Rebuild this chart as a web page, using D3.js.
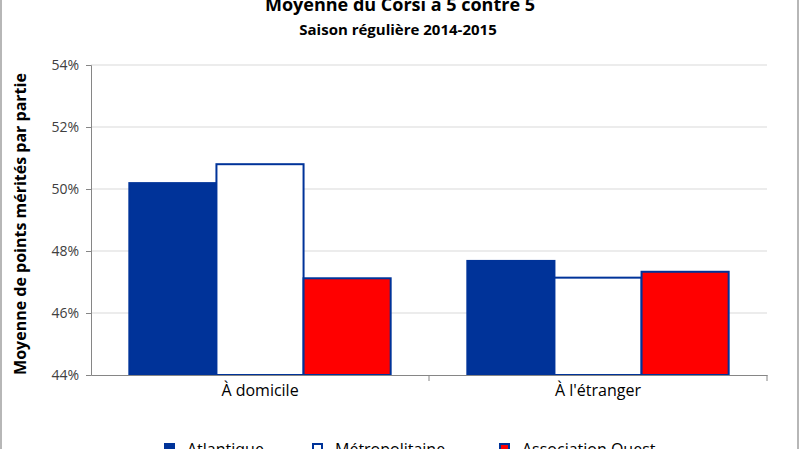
<!DOCTYPE html>
<html>
  <head>
    <script src="https://d3js.org/d3.v7.min.js"></script>
    <style>
      body { margin: 0; background: #fff; }
      text { font-family: "Open Sans", sans-serif; }
    </style>
  </head>
  <body>
    <svg width="800" height="449" id="chart"></svg>
    <script>
      const categories = ["À domicile", "À l'étranger"];
      const seriesNames = ["Atlantique", "Métropolitaine", "Association Ouest"];
      const atlantique = [50.19, 47.68];
      const metropolitaine = [50.80, 47.14];
      const associationOuest = [47.12, 47.33];
      const yTicks = [44, 46, 48, 50, 52, 54];

      const seriesValues = [atlantique, metropolitaine, associationOuest];
      const fills = ["#003399", "#ffffff", "#ff0000"];

      let svg = d3.select("#chart");

      // chart border
      svg.append("rect")
        .attr("x", 1).attr("y", -5)
        .attr("width", 797).attr("height", 470)
        .attr("fill", "none").attr("stroke", "#888").attr("stroke-width", 1.2);

      let x0 = d3.scaleBand().domain(categories).range([91, 767]).paddingInner(0).paddingOuter(0);
      let x1 = d3.scaleBand().domain(seriesNames).range([0, x0.bandwidth()]).paddingOuter(0.44);
      let y = d3.scaleLinear().domain([44, 54]).range([375, 65]);

      // gridlines
      svg.append("g").selectAll("line").data(yTicks.slice(1))
        .join("line")
        .attr("x1", 91).attr("x2", 767)
        .attr("y1", d => y(d)).attr("y2", d => y(d))
        .attr("stroke", "#d9d9d9").attr("stroke-width", 1);

      // bars
      let groups = svg.append("g").selectAll("g").data(categories)
        .join("g")
        .attr("transform", d => `translate(${x0(d)},0)`);

      groups.selectAll("rect")
        .data((c, ci) => seriesNames.map((s, si) => ({ s: s, si: si, v: seriesValues[si][ci] })))
        .join("rect")
        .attr("x", d => x1(d.s))
        .attr("width", x1.bandwidth())
        .attr("y", d => y(d.v))
        .attr("height", d => y(44) - y(d.v))
        .attr("fill", d => fills[d.si])
        .attr("stroke", "#003399")
        .attr("stroke-width", 2);

      // y axis
      let yAxis = svg.append("g")
        .attr("transform", "translate(91,0)")
        .call(d3.axisLeft(y).tickValues(yTicks).tickSize(5).tickFormat(d => d + "%"));
      yAxis.select(".domain").attr("stroke", "#868686");
      yAxis.selectAll(".tick line").attr("stroke", "#868686");
      yAxis.selectAll(".tick text")
        .attr("x", -12)
        .attr("fill", "#404040")
        .style("font-size", "14px");

      // x axis
      let xAxis = svg.append("g")
        .attr("transform", "translate(0,375)")
        .call(d3.axisBottom(x0).tickSize(0));
      xAxis.select(".domain").attr("stroke", "#868686");
      xAxis.selectAll(".tick text")
        .attr("dy", "1.15em")
        .attr("fill", "#000")
        .style("font-size", "16px");
      svg.append("g").selectAll("line").data([x0.range()[0] + x0.bandwidth(), x0.range()[1]])
        .join("line")
        .attr("x1", d => d).attr("x2", d => d)
        .attr("y1", 375).attr("y2", 381)
        .attr("stroke", "#868686");

      // titles
      svg.append("text")
        .attr("x", 400).attr("y", 11)
        .attr("text-anchor", "middle")
        .style("font-size", "18px").style("font-weight", "bold")
        .text("Moyenne du Corsi à 5 contre 5");
      svg.append("text")
        .attr("x", 398).attr("y", 35)
        .attr("text-anchor", "middle")
        .style("font-size", "15px").style("font-weight", "bold")
        .text("Saison régulière 2014-2015");
      svg.append("text")
        .attr("transform", "translate(26,224) rotate(-90)")
        .attr("text-anchor", "middle")
        .style("font-size", "16px").style("font-weight", "bold")
        .text("Moyenne de points mérités par partie");

      // legend
      let legendX = [165, 313, 500];
      let legend = svg.append("g").selectAll("g").data(seriesNames)
        .join("g")
        .attr("transform", (d, i) => `translate(${legendX[i]},444)`);
      legend.append("rect")
        .attr("width", 9).attr("height", 9)
        .attr("fill", (d, i) => fills[i])
        .attr("stroke", "#003399").attr("stroke-width", 2);
      legend.append("text")
        .attr("x", 22).attr("y", 11)
        .style("font-size", "16px")
        .text(d => d);
    </script>
  </body>
</html>
